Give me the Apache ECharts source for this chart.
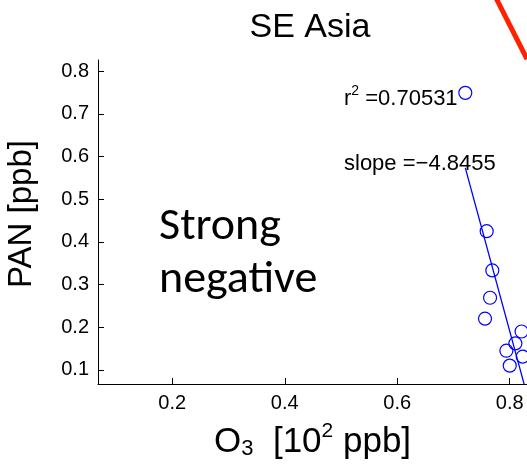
<!DOCTYPE html>
<html><head><meta charset="utf-8">
<script src="https://cdn.jsdelivr.net/npm/echarts@6/dist/echarts.min.js"></script>
<style>html,body{margin:0;padding:0;background:#fff}#c{width:527px;height:468px}</style>
</head><body><div id="c"></div>
<script>
// Data
const o3  = [0.721, 0.759, 0.769, 0.765, 0.756, 0.821, 0.810, 0.794, 0.823, 0.800];
const pan = [0.749, 0.425, 0.333, 0.269, 0.220, 0.190, 0.162, 0.145, 0.131, 0.110];
const fitSlope = -4.8455;
const fitIntercept = 4.067;
const fitXRange = [0.721, 0.84];
const r2Value = '0.70531';
const slopeText = '\u22124.8455';
const xTicks = [0.2, 0.4, 0.6, 0.8];
const yTicks = [0.1, 0.2, 0.3, 0.4, 0.5, 0.6, 0.7, 0.8];
const titleText = 'SE Asia';
const yAxisTitle = 'PAN [ppb]';
const noteLines = ['Strong', 'negative'];

const F = '"Liberation Sans", Arial, Helvetica, sans-serif';
const NF = 'Carlito, Calibri, Lato, sans-serif';
const scatterData = o3.map((x, i) => [x, pan[i]]);
const fitData = fitXRange.map(x => [x, fitIntercept + fitSlope * x]);

const chart = echarts.init(document.getElementById('c'), null, {renderer: 'canvas'});
chart.setOption({
  backgroundColor: '#ffffff',
  animation: false,
  grid: {left: 98, top: 60, bottom: 84, right: -39, outerBoundsMode: 'none', containLabel: false},
  xAxis: {
    type: 'value', min: 0.068, max: 0.9,
    splitLine: {show: false},
    axisLine: {show: true, onZero: false, lineStyle: {color: '#000', width: 1}},
    axisTick: {show: true, inside: true, length: 6, customValues: xTicks, lineStyle: {color: '#000'}},
    axisLabel: {customValues: xTicks, margin: 9, color: '#000', fontSize: 20, fontFamily: F,
                formatter: v => v.toFixed(1)}
  },
  yAxis: {
    type: 'value', min: 0.067, max: 0.826,
    splitLine: {show: false},
    axisLine: {show: true, onZero: false, lineStyle: {color: '#000', width: 1}},
    axisTick: {show: true, inside: true, length: 6, customValues: yTicks, lineStyle: {color: '#000'}},
    axisLabel: {customValues: yTicks, margin: 9, color: '#000', fontSize: 20, fontFamily: F,
                formatter: v => v.toFixed(1)}
  },
  series: [
    {
      type: 'line', data: fitData, showSymbol: false, symbol: 'none', clip: true,
      lineStyle: {color: '#0000ff', width: 1.3}, z: 2
    },
    {
      type: 'scatter', data: scatterData, symbol: 'circle', symbolSize: 13, clip: false,
      itemStyle: {color: 'rgba(255,255,255,0)', borderColor: '#0000ff', borderWidth: 1.2, opacity: 1}, z: 3
    }
  ],
  graphic: [
    {type: 'text', x: 310, y: 28, style: {text: titleText, font: '34px ' + F, fill: '#000', align: 'center', verticalAlign: 'middle'}},
    {type: 'text', x: 22, y: 214, rotation: Math.PI / 2,
     style: {text: yAxisTitle, font: '33px ' + F, fill: '#000', align: 'center', verticalAlign: 'middle'}},
    {type: 'text', x: 214, y: 416, style: {
      text: '{b|O}{sub|3}{b|  [10}{sup|2}{b| ppb]}', align: 'left', verticalAlign: 'top',
      rich: {
        b: {fontSize: 35, fontFamily: F, fill: '#000', lineHeight: 44, verticalAlign: 'bottom'},
        sub: {fontSize: 22, fontFamily: F, fill: '#000', lineHeight: 22, verticalAlign: 'bottom', padding: [20, 0, 0, 0]},
        sup: {fontSize: 21, fontFamily: F, fill: '#000', lineHeight: 21, verticalAlign: 'top', padding: [5, 0, 0, 0]}
      }
    }},
    {type: 'text', x: 344, y: 97, style: {
      text: '{a|r}{s|2}{a| =' + r2Value + '}', align: 'left', verticalAlign: 'middle',
      rich: {a: {fontSize: 22, fontFamily: F, fill: '#000', lineHeight: 26, verticalAlign: 'bottom'},
             s: {fontSize: 14, fontFamily: F, fill: '#000', lineHeight: 14, verticalAlign: 'top'}}
    }},
    {type: 'text', x: 344, y: 164, style: {text: 'slope =' + slopeText, font: '22px ' + F, fill: '#000', align: 'left', verticalAlign: 'middle'}},
    {type: 'text', x: 159, y: 227, style: {text: noteLines[0], font: '46px ' + NF, fill: '#000', align: 'left', verticalAlign: 'middle'}},
    {type: 'text', x: 159, y: 280, style: {text: noteLines[1], font: '46px ' + NF, fill: '#000', align: 'left', verticalAlign: 'middle'}},
    {type: 'line', shape: {x1: 496, y1: -2, x2: 527, y2: 59}, style: {stroke: '#ff2200', lineWidth: 5}}
  ]
});
</script></body></html>
